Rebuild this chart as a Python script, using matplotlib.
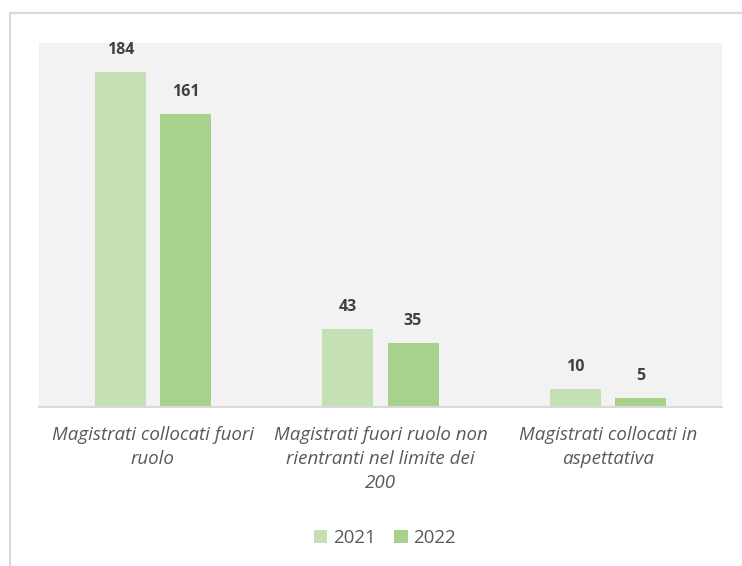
import matplotlib.pyplot as plt
import numpy as np
from matplotlib.patches import Rectangle

categories = ["Magistrati collocati fuori\nruolo",
              "Magistrati fuori ruolo non\nrientranti nel limite dei\n200",
              "Magistrati collocati in\naspettativa"]
years = ["2021", "2022"]
values_2021 = [184, 43, 10]
values_2022 = [161, 35, 5]

colors = ["#c5e0b4", "#a9d18e"]

plt.rcParams['font.family'] = ['Open Sans', 'DejaVu Sans']

fig = plt.figure(figsize=(7.42, 5.66), dpi=100)
W, H = 742, 566
ax = fig.add_axes([39 / W, 1 - 407 / H, 683 / W, 364 / H])
ax.set_facecolor("#f2f2f2")

# outer frame (only left/top visible)
fig.patches.append(Rectangle((9.5 / W, -0.1), 1.2, 1 - 13 / H + 0.1,
                             transform=fig.transFigure, fill=False,
                             edgecolor="#d9d9d9", lw=1.5))

x = np.arange(len(categories))
w = 0.224
off = 0.143
b1 = ax.bar(x - off, values_2021, w, color=colors[0], label=years[0])
b2 = ax.bar(x + off, values_2022, w, color=colors[1], label=years[1])

for bars in (b1, b2):
    ax.bar_label(bars, padding=10, fontsize=11.5, fontweight='bold', color="#404040")

ax.set_xlim(-0.5, 2.5)
ax.set_ylim(0, 200)
ax.set_yticks([])
ax.set_xticks(x)
ax.set_xticklabels(categories, fontsize=13.5, style='italic', color="#595959",
                   linespacing=1.42)
ax.tick_params(axis='x', length=0, pad=14)
for s in ['top', 'right', 'left']:
    ax.spines[s].set_visible(False)
ax.spines['bottom'].set_color("#d9d9d9")
ax.spines['bottom'].set_linewidth(1.5)

fig.legend(handles=[b1, b2], labels=years, loc='center',
           bbox_to_anchor=(385 / W, 1 - 538 / H), ncol=2, frameon=False,
           fontsize=13.5, handlelength=0.7, handleheight=0.7, handletextpad=0.3,
           columnspacing=1.0, labelcolor="#595959")

fig.savefig("out.png", dpi=100)
